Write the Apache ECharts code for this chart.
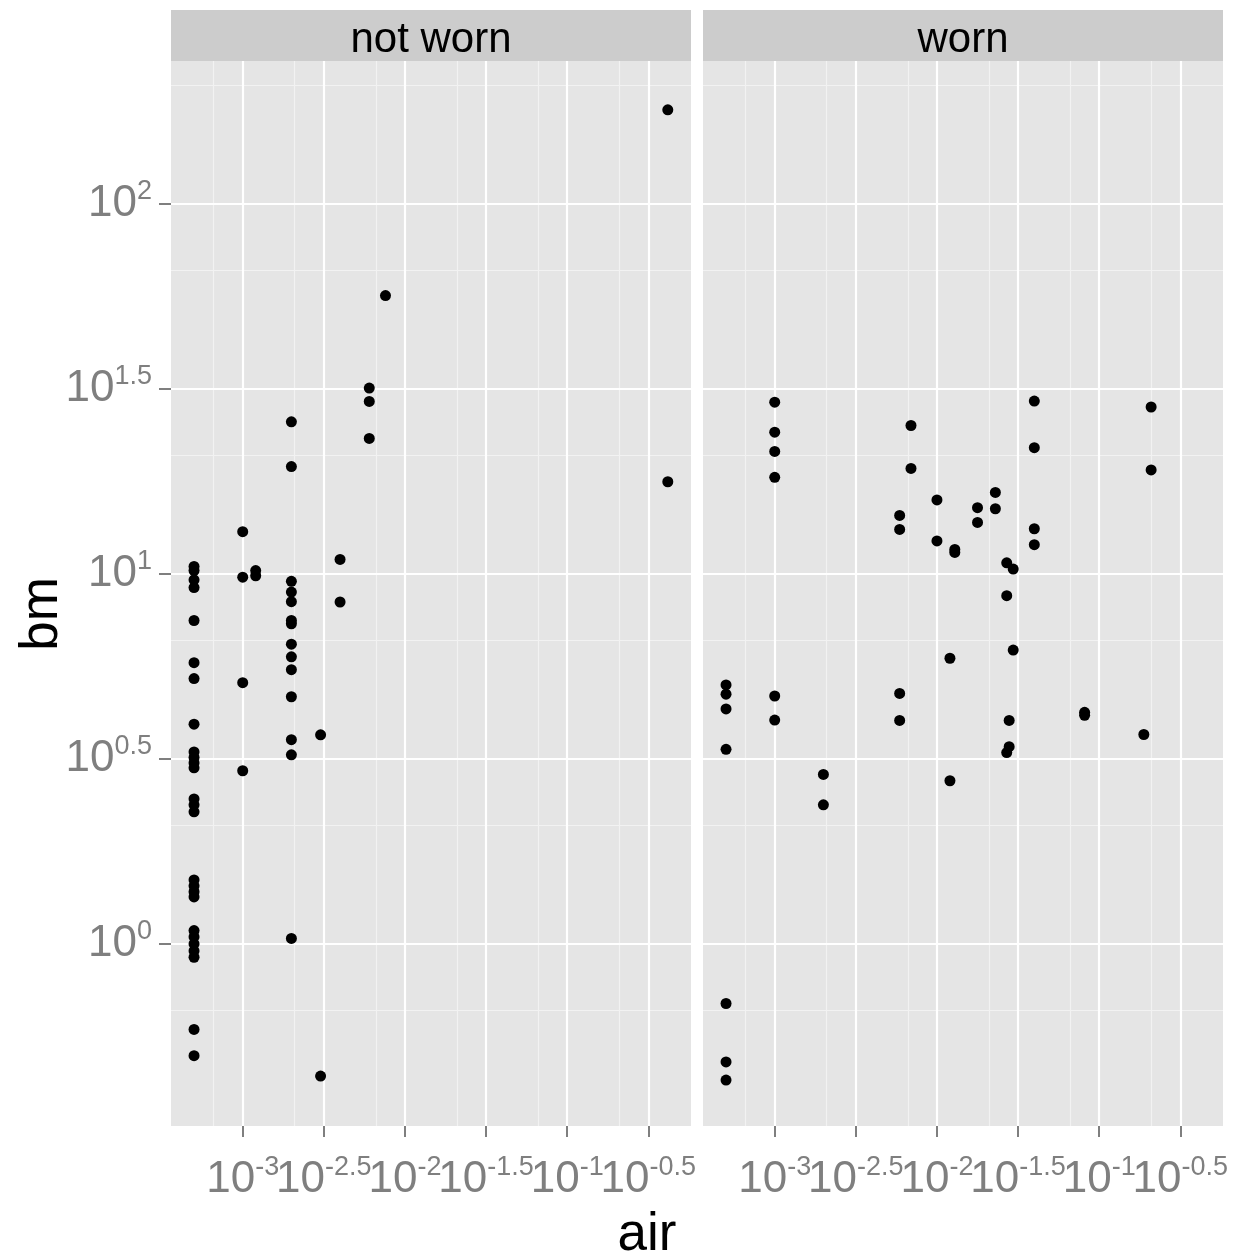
<!DOCTYPE html>
<html><head><meta charset="utf-8">
<script src="https://cdn.jsdelivr.net/npm/echarts@6/dist/echarts.min.js"></script>
<style>html,body{margin:0;padding:0;background:#fff}#c{width:1236px;height:1260px}</style>
</head><body><div id="c"></div>
<script>
// ---- data (log10 exponents) ----
const facets = ['not worn', 'worn'];
const xBreaks = [-3, -2.5, -2, -1.5, -1, -0.5];
const xLabels = ['-3', '-2.5', '-2', '-1.5', '-1', '-0.5'];
const yBreaks = [0, 0.5, 1, 1.5, 2];
const yLabels = ['0', '0.5', '1', '1.5', '2'];

// not worn: air columns (log10) and bm values (log10) in each column
const notWornAir = [-3.30, -3.00, -2.92, -2.70, -2.52, -2.40, -2.22, -2.12, -0.38];
const notWornBm = [
  [1.020, 1.009, 0.984, 0.963, 0.874, 0.760, 0.717, 0.594, 0.519, 0.504, 0.489, 0.476, 0.392, 0.376, 0.357,
   0.173, 0.157, 0.141, 0.127, 0.036, 0.019, 0.000, -0.019, -0.036, -0.231, -0.302],
  [1.114, 0.991, 0.706, 0.468],
  [1.009, 0.995],
  [1.411, 1.290, 0.980, 0.951, 0.925, 0.874, 0.865, 0.810, 0.776, 0.741, 0.668, 0.552, 0.511, 0.015],
  [0.565, -0.357],
  [1.039, 0.924],
  [1.502, 1.466, 1.366],
  [1.752],
  [2.254, 1.249]
];

// worn
const wornAir = [-3.30, -3.00, -2.70, -2.23, -2.16, -2.00, -1.92, -1.89, -1.75, -1.64, -1.57, -1.555, -1.53, -1.40, -1.09, -0.725, -0.68];
const wornBm = [
  [0.700, 0.675, 0.635, 0.526, -0.161, -0.319, -0.368],
  [1.464, 1.383, 1.331, 1.261, 0.670, 0.605],
  [0.458, 0.376],
  [1.158, 1.120, 0.677, 0.604],
  [1.401, 1.285],
  [1.200, 1.089],
  [0.772, 0.441],
  [1.066, 1.058],
  [1.179, 1.139],
  [1.220, 1.176],
  [1.030, 0.941, 0.517],
  [0.604, 0.533],
  [1.013, 0.794],
  [1.467, 1.341, 1.122, 1.079],
  [0.626, 0.618],
  [0.566],
  [1.451, 1.281]
];

// ---- layout / style ----
const X_MIN = -3.442, X_MAX = -0.237, Y_MIN = -0.492, Y_MAX = 2.386;
const FONT = "'Liberation Sans', Arial, sans-serif";
const GREY = '#7F7F7F';
const PANEL_TOP = 61, PANEL_H = 1065, PANEL_W = 520;
const panelLefts = [171, 703];

function points(airCols, bmCols) {
  const out = [];
  airCols.forEach((a, i) => bmCols[i].forEach(b => out.push([a, b])));
  return out;
}
function minorBreaks(breaks, lo, hi) {
  const all = [breaks[0] - 0.5, ...breaks, breaks[breaks.length - 1] + 0.5];
  const out = [];
  for (let i = 0; i < all.length - 1; i++) {
    const m = Math.log10((Math.pow(10, all[i]) + Math.pow(10, all[i + 1])) / 2);
    if (m > lo && m < hi) out.push(m);
  }
  return out;
}
const xMinor = minorBreaks(xBreaks, X_MIN, X_MAX);
const yMinor = minorBreaks(yBreaks, Y_MIN, Y_MAX);

const rich = {
  b: {fontSize: 44, fontFamily: FONT, color: GREY, lineHeight: 52},
  s: {fontSize: 27, fontFamily: FONT, color: GREY, lineHeight: 27, verticalAlign: 'top'}
};
function fmt(breaks, labels) {
  return v => {
    const i = breaks.findIndex(b => Math.abs(b - v) < 1e-6);
    return '{b|10}{s|' + (i >= 0 ? labels[i] : v) + '}';
  };
}

const data = [points(notWornAir, notWornBm), points(wornAir, wornBm)];

const grids = panelLefts.map(l => ({
  left: l, top: PANEL_TOP, width: PANEL_W, height: PANEL_H,
  show: true, backgroundColor: '#E5E5E5', borderWidth: 0
}));

// each panel gets two coincident bottom x axes (alternate breaks) so that
// the touching labels are not dropped by overlap handling
const xBreakSets = [xBreaks.filter((_, k) => k % 2 === 0), xBreaks.filter((_, k) => k % 2 === 1)];
const xAxes = [];
panelLefts.forEach((l, i) => {
  xBreakSets.forEach(vals => {
    xAxes.push({
      type: 'value', gridIndex: i, min: X_MIN, max: X_MAX, position: 'bottom', offset: 0,
      splitLine: {show: false},
      axisLine: {show: false, onZero: false},
      axisTick: {show: true, customValues: vals, length: 11, lineStyle: {color: GREY, width: 2}},
      axisLabel: {show: true, customValues: vals, formatter: fmt(xBreaks, xLabels), rich: rich, margin: 28,
        hideOverlap: false, showMinLabel: true, showMaxLabel: true}
    });
  });
});
const yAxes = panelLefts.map((l, i) => ({
  type: 'value', gridIndex: i, min: Y_MIN, max: Y_MAX,
  splitLine: {show: false},
  axisLine: {show: false, onZero: false},
  axisTick: {show: i === 0, customValues: yBreaks, length: 12, lineStyle: {color: GREY, width: 2}},
  axisLabel: {show: i === 0, customValues: yBreaks, formatter: fmt(yBreaks, yLabels), rich: rich, margin: 19,
    hideOverlap: false, showMinLabel: true, showMaxLabel: true}
}));

function gridLines() {
  const minor = {color: '#F2F2F2', width: 1.1, type: 'solid'};
  const major = {color: '#FFFFFF', width: 2.2, type: 'solid'};
  return [
    ...xMinor.map(v => ({xAxis: v, lineStyle: minor})),
    ...yMinor.map(v => ({yAxis: v, lineStyle: minor})),
    ...xBreaks.map(v => ({xAxis: v, lineStyle: major})),
    ...yBreaks.map(v => ({yAxis: v, lineStyle: major}))
  ];
}

const series = [];
panelLefts.forEach((l, i) => {
  series.push({
    type: 'scatter', xAxisIndex: 2 * i, yAxisIndex: i, data: [[-2, 1]], symbolSize: 0,
    itemStyle: {opacity: 0}, silent: true, z: 1, animation: false,
    markLine: {silent: true, symbol: ['none', 'none'], label: {show: false}, animation: false,
      emphasis: {disabled: true}, data: gridLines()}
  });
  series.push({
    type: 'scatter', xAxisIndex: 2 * i, yAxisIndex: i, data: data[i], symbolSize: 11,
    itemStyle: {color: '#000000', opacity: 1}, z: 5, animation: false, silent: true
  });
});

const graphics = [];
panelLefts.forEach((l, i) => {
  graphics.push({type: 'rect', shape: {x: l, y: 10, width: PANEL_W, height: 51}, style: {fill: '#CCCCCC'}, silent: true});
  graphics.push({type: 'text', x: l + PANEL_W / 2, y: 40,
    style: {text: facets[i], font: '42px ' + FONT, fill: '#000000', textAlign: 'center', textVerticalAlign: 'middle'}});
});
graphics.push({type: 'text', x: 647, y: 1235,
  style: {text: 'air', font: '53px ' + FONT, fill: '#000000', textAlign: 'center', textVerticalAlign: 'middle'}});
graphics.push({type: 'text', x: 42, y: 614, rotation: Math.PI / 2,
  style: {text: 'bm', font: '53px ' + FONT, fill: '#000000', textAlign: 'center', textVerticalAlign: 'middle'}});

const chart = echarts.init(document.getElementById('c'), null, {renderer: 'canvas'});
chart.setOption({
  backgroundColor: '#FFFFFF',
  animation: false,
  grid: grids,
  xAxis: xAxes,
  yAxis: yAxes,
  series: series,
  graphic: graphics
});
</script>
</body></html>
